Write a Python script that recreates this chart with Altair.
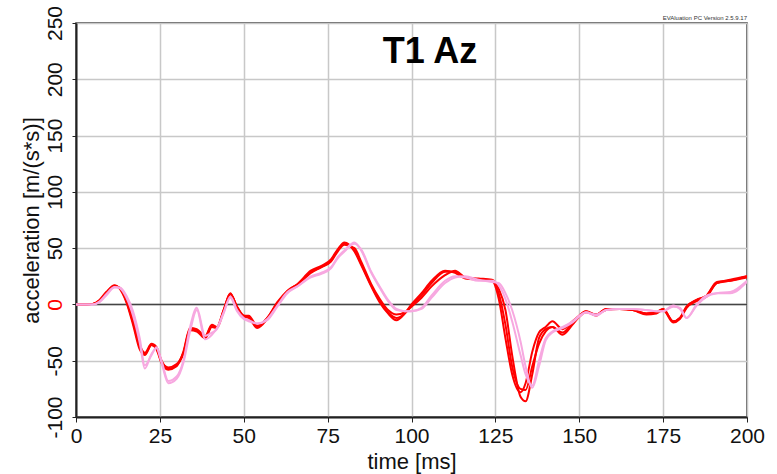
import altair as alt
import pandas as pd

TIME = [0, 3, 5, 7, 9, 11.5, 13, 15, 17, 19,
        20.5, 22.5, 24, 25.5, 27.5, 30, 32, 34, 36, 38.5,
        40.5, 42, 44, 46, 48, 50, 51.5, 54, 57, 60,
        63, 66, 70, 73, 76, 78, 80, 83, 85, 88,
        90.5, 93, 95.5, 98, 100, 103, 106, 110, 113, 116,
        120, 124, 126, 128, 130, 132.5, 134, 136, 138, 140,
        142, 145, 148, 150, 152, 155, 158, 162, 166, 170,
        173, 175, 178, 180, 182, 185, 188, 191, 195, 200]

RED_1 = [0, 0, 0.5, 4, 11, 17, 14, 2, -18, -40,
         -45, -36, -40, -52, -58, -55, -42, -21, -22, -28,
         -18, -20, -5, 10, -3, -10, -10, -19, -12, 2,
         12, 18, 30, 34, 40, 49, 55, 47, 35, 16,
         2, -8, -14, -8, 0, 10, 21, 30, 28, 23,
         22, 21, 5, -30, -62, -78, -70, -42, -25, -20,
         -15, -22, -15, -10, -6, -10, -4, -4, -5, -8,
         -7, -4, -15, -12, -2, 4, 8, 20, 21, 25]

RED_2 = [0, 0, 0.5, 3, 10, 16, 15, 4, -14, -36,
         -43, -35, -38, -50, -57, -54, -44, -23, -24, -30,
         -20, -21, -6, 9, -2, -11, -12, -21, -13, 1,
         11, 17, 28, 33, 38, 47, 53, 50, 38, 18,
         5, -5, -9, -7, -2, 6, 16, 26, 30, 24,
         23, 22, 14, -5, -45, -82, -86, -62, -30, -22,
         -20, -27, -18, -11, -7, -9, -5, -4, -5, -9,
         -8, -5, -16, -13, -3, 3, 7, 19, 22, 25]

RED_3 = [0, 0, 0.5, 3.5, 10, 16.5, 14.5, 3, -16, -38,
         -44, -36, -39, -51, -56, -53, -43, -22, -23, -29,
         -19, -20, -5, 9.5, -2, -10, -11, -20, -12, 1,
         12, 18, 29, 33, 39, 48, 54, 48, 36, 17,
         3, -7, -12, -8, -1, 8, 19, 29, 29, 24,
         22, 21, 10, -18, -55, -75, -76, -55, -35, -24,
         -20, -25, -16, -10, -6, -9, -4, -4, -5, -8,
         -7, -4, -15, -12, -2, 4, 8, 19, 21, 24]

PINK_1 = [0, 0, 0, 2, 8, 15, 15, 8, -6, -30,
          -54, -45, -38, -50, -68, -64, -50, -20, -3, -28,
          -25, -22, -8, 7, -5, -12, -14, -17, -14, -2,
          10, 16, 25, 28, 33, 42, 48, 55, 48, 28,
          15, 3, -5, -6, -6, -3, 8, 21, 25, 24,
          21, 21, 17, 5, -15, -45, -62, -72, -50, -30,
          -24, -20, -15, -10, -7, -9, -5, -4, -4, -5,
          -6, -6, -2, -3, -12, 0, 8, 10, 10, 20]

PINK_2 = [0, 0, 0, 2.5, 9, 15.5, 14.5, 6, -10, -34,
          -57, -44, -39, -52, -70, -66, -52, -24, -5, -31,
          -27, -21, -7, 6, -6, -13, -15, -17, -13, -1,
          11, 16, 24, 27, 32, 41, 47, 54, 49, 29,
          16, 4, -4, -6, -6, -4, 6, 19, 24, 25,
          22, 20, 19, 10, -5, -33, -55, -74, -55, -32,
          -25, -21, -16, -11, -7, -10, -5, -4, -4, -5,
          -6, -6, -1, -4, -12, -1, 7, 10, 11, 21]

SERIES = {"r1": RED_1, "r2": RED_2, "r3": RED_3, "p1": PINK_1, "p2": PINK_2}
SERIES_COLORS = ["#ff0000", "#ff0000", "#ff0000", "#f7a8e0", "#f7a8e0"]
SERIES_WIDTHS = [2, 2, 2, 3, 3]

TITLE = "T1 Az"
VERSION = "EVAluation PC Version 2.5.9.17"
X_TICKS = [0, 25, 50, 75, 100, 125, 150, 175, 200]
Y_TICKS = [-100, -50, 0, 50, 100, 150, 200, 250]

FONT = "Liberation Sans"

rows = []
for name, vals in SERIES.items():
    for t, v in zip(TIME, vals):
        rows.append({"time": t, "acc": v, "series": name})
df = pd.DataFrame(rows)

x_scale = alt.Scale(domain=[0, 200], nice=False, zero=False)
y_scale = alt.Scale(domain=[-100, 250], nice=False, zero=False)

x_axis = alt.Axis(values=X_TICKS, title="time [ms]", grid=True, gridColor="#c8c8c8",
                  gridWidth=1.5, domainColor="#222", domainWidth=2, tickColor="#222",
                  tickSize=5, labelPadding=3, labelFont=FONT, labelFontSize=21,
                  labelColor="#111", titleFont=FONT, titleFontSize=22,
                  titleFontWeight="normal", titleColor="#111", titleY=51,
                  titleBaseline="alphabetic", labelFlush=False)
y_axis = alt.Axis(values=Y_TICKS, title="acceleration [m/(s*s)]", grid=True,
                  gridColor="#c8c8c8", gridWidth=1.5, domainColor="#222", domainWidth=2,
                  tickColor="#222", tickSize=4, labelPadding=11, labelAngle=270,
                  labelAlign="center", labelBaseline="alphabetic", labelFont=FONT,
                  labelFontSize=21,
                  labelExpr="replace(datum.label, '\u2212', '-')",
                  labelColor={"condition": {"test": "datum.value == 0", "value": "#ff0000"},
                              "value": "#111"},
                  titleFont=FONT, titleFontSize=22, titleFontWeight="normal",
                  titleColor="#111", titleAngle=270, titleX=-38, titleY=197,
                  titleAlign="center", titleBaseline="alphabetic", labelFlush=False)

base = alt.Chart(df)

lines = base.mark_line(interpolate="monotone", clip=True).encode(
    x=alt.X("time:Q", scale=x_scale, axis=x_axis),
    y=alt.Y("acc:Q", scale=y_scale, axis=y_axis),
    color=alt.Color("series:N", scale=alt.Scale(domain=list(SERIES.keys()),
                                                range=SERIES_COLORS), legend=None),
    strokeWidth=alt.StrokeWidth("series:N", scale=alt.Scale(domain=list(SERIES.keys()),
                                                            range=SERIES_WIDTHS), legend=None),
    order=alt.Order("time:Q"),
)

zero = alt.Chart(pd.DataFrame({"y": [0]})).mark_rule(color="#444", strokeWidth=1.5).encode(
    y=alt.Y("y:Q", scale=y_scale)
)

title = alt.Chart(pd.DataFrame({"t": [TITLE]})).mark_text(
    font=FONT, fontSize=36, fontWeight="bold", color="#000", align="center",
    baseline="middle").encode(text="t:N", x=alt.value(354), y=alt.value(29))

version = alt.Chart(pd.DataFrame({"t": [VERSION]})).mark_text(
    font=FONT, fontSize=6, color="#333", align="right", baseline="bottom").encode(
    text="t:N", x=alt.value(671), y=alt.value(-2))

chart = alt.layer(zero, lines, title, version).properties(
    width=671, height=394,
    padding={"left": 76, "top": 23, "right": 30, "bottom": 57},
    autosize=alt.AutoSizeParams(type="none"),
).configure_view(stroke="#333", strokeWidth=1.5)

chart.save("out.html", embed_options={"renderer": "svg", "actions": False})
